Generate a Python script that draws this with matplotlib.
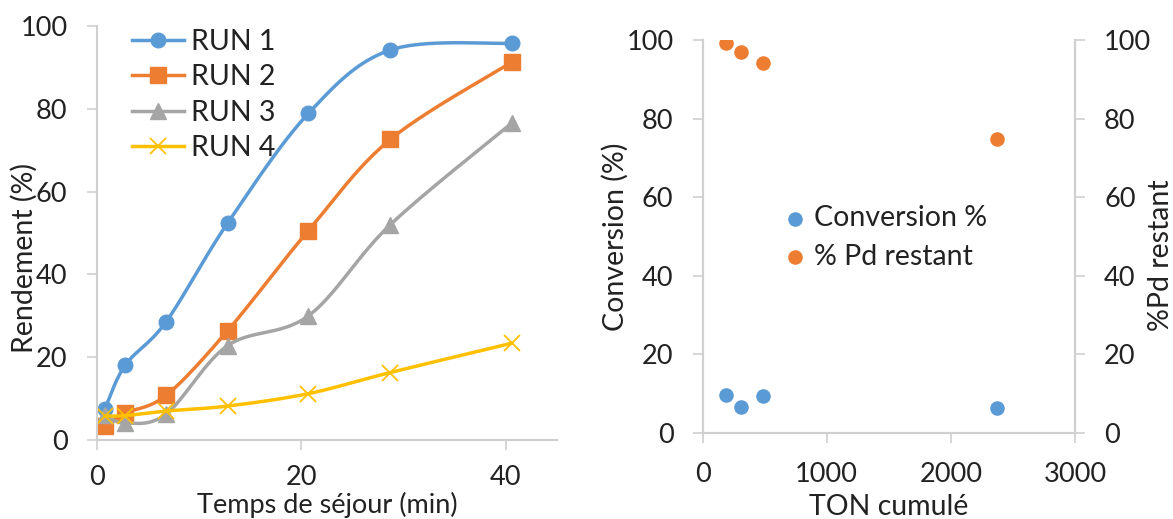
import numpy as np
import matplotlib
matplotlib.use("Agg")
import matplotlib.pyplot as plt

plt.rcParams['font.family'] = ['Lato', 'DejaVu Sans']

# left panel data
temps = [0.8, 2.8, 6.8, 12.8, 20.7, 28.7, 40.6]
run1 = [7.5, 18.1, 28.6, 52.4, 78.9, 94.2, 95.8]
run2 = [3.4, 6.5, 10.8, 26.4, 50.6, 72.6, 91.3]
run3 = [6.0, 4.1, 6.3, 22.8, 30.0, 52.0, 76.6]
run4 = [5.8, 5.9, 7.0, 8.2, 11.2, 16.3, 23.4]
run_labels = ['RUN 1', 'RUN 2', 'RUN 3', 'RUN 4']

# right panel data
ton = [189, 308, 485, 2374]
conversion = [9.7, 6.6, 9.3, 6.4]
pd_restant = [99.2, 97.0, 94.1, 74.7]

BLUE = '#5B9BD5'
ORANGE = '#ED7D31'
GREY = '#A5A5A5'
YELLOW = '#FFC000'
AXC = '#D0D0D0'
TXT = '#222222'
FS = 19.5   # ticks
LFS = 20.5  # labels / legend


def smooth(x, y, n=40):
    # excel-like smoothed line (catmull-rom bezier)
    x = np.asarray(x, float)
    y = np.asarray(y, float)
    P = np.column_stack([x, y])
    P = np.vstack([P[0], P, P[-1]])
    t = np.linspace(0, 1, n)[:, None]
    out = []
    for i in range(1, len(P) - 2):
        p0, p1, p2, p3 = P[i - 1], P[i], P[i + 1], P[i + 2]
        c1 = p1 + (p2 - p0) / 6
        c2 = p2 - (p3 - p1) / 6
        seg = (1 - t) ** 3 * p1 + 3 * (1 - t) ** 2 * t * c1 + 3 * (1 - t) * t ** 2 * c2 + t ** 3 * p2
        out.append(seg)
    out = np.vstack(out)
    return out[:, 0], out[:, 1]


def style(ax):
    for s in ax.spines.values():
        s.set_color(AXC)
        s.set_linewidth(1.5)
    ax.tick_params(colors=AXC, labelcolor=TXT, labelsize=FS, length=7, width=1.2)


fig = plt.figure(figsize=(11.73, 5.19), dpi=100)

# ---- left panel ----
ax1 = fig.add_axes([0.0824, 0.1522, 0.3925, 0.7977])
series = [
    (run1, BLUE, 'o', 10.5, None),
    (run2, ORANGE, 's', 12, None),
    (run3, GREY, '^', 11, None),
    (run4, YELLOW, 'x', 11, 1.3),
]
handles = []
for (vals, c, m, ms, mew), lab in zip(series, run_labels):
    sx, sy = smooth(temps, vals)
    ax1.plot(sx, sy, color=c, lw=2.5, solid_capstyle='round')
    ax1.plot(temps, vals, ls='none', marker=m, ms=ms, color=c,
             markeredgewidth=mew if mew else 1.0)
    h, = ax1.plot([], [], color=c, lw=2.5, marker=m, ms=ms,
                  markeredgewidth=mew if mew else 1.0)
    handles.append(h)

ax1.set_xlim(0, 45)
ax1.set_ylim(0, 100)
ax1.set_xticks([0, 20, 40])
ax1.set_yticks([0, 20, 40, 60, 80, 100])
ax1.spines['top'].set_visible(False)
ax1.spines['right'].set_visible(False)
style(ax1)
ax1.tick_params(axis='y', pad=14)
ax1.tick_params(axis='x', pad=11)
ax1.set_xlabel('Temps de séjour (min)', fontsize=19.5, color=TXT)
ax1.set_ylabel('Rendement (%)', fontsize=LFS, color=TXT)
ax1.xaxis.set_label_coords(0.5, -0.125)
ax1.yaxis.set_label_coords(-0.1275, 0.44)
fig.legend(handles, run_labels, loc='upper left',
           bbox_to_anchor=(131.8 / 1173, 1 - 29 / 519),
           frameon=False, fontsize=LFS, borderpad=0, borderaxespad=0,
           handlelength=1.85, handletextpad=0.22, labelspacing=0.33,
           labelcolor=TXT)

# ---- right panel ----
ax2 = fig.add_axes([0.599, 0.1663, 0.3174, 0.7566])
ax3 = ax2.twinx()
h1 = ax2.scatter(ton, conversion, s=110, color=BLUE, linewidths=0, label='Conversion %')
h2 = ax3.scatter(ton, pd_restant, s=110, color=ORANGE, linewidths=0, label='% Pd restant')
for a in (ax2, ax3):
    a.set_ylim(0, 100)
    a.set_yticks([0, 20, 40, 60, 80, 100])
    a.spines['top'].set_visible(False)
    style(a)
ax2.set_xlim(0, 3000)
ax2.set_xticks([0, 1000, 2000, 3000])
ax2.tick_params(axis='both', pad=14)
ax3.tick_params(axis='y', pad=14)
ax2.set_xlabel('TON cumulé', fontsize=LFS, color=TXT)
ax2.set_ylabel('Conversion (%)', fontsize=LFS, color=TXT)
ax3.set_ylabel('%Pd restant', fontsize=LFS, color=TXT)
ax2.xaxis.set_label_coords(0.5, -0.155)
ax2.yaxis.set_label_coords(-0.198, 0.498)
ax3.yaxis.set_label_coords(1.196, 0.4525)
fig.legend([h1, h2], ['Conversion %', '% Pd restant'], loc='upper left',
           bbox_to_anchor=(783.9 / 1173, 1 - 205 / 519),
           frameon=False, fontsize=LFS, borderpad=0, borderaxespad=0,
           handlelength=0.8, handletextpad=0.25, labelspacing=0.45,
           scatterpoints=1, labelcolor=TXT)

fig.savefig('out.png', dpi=100)
